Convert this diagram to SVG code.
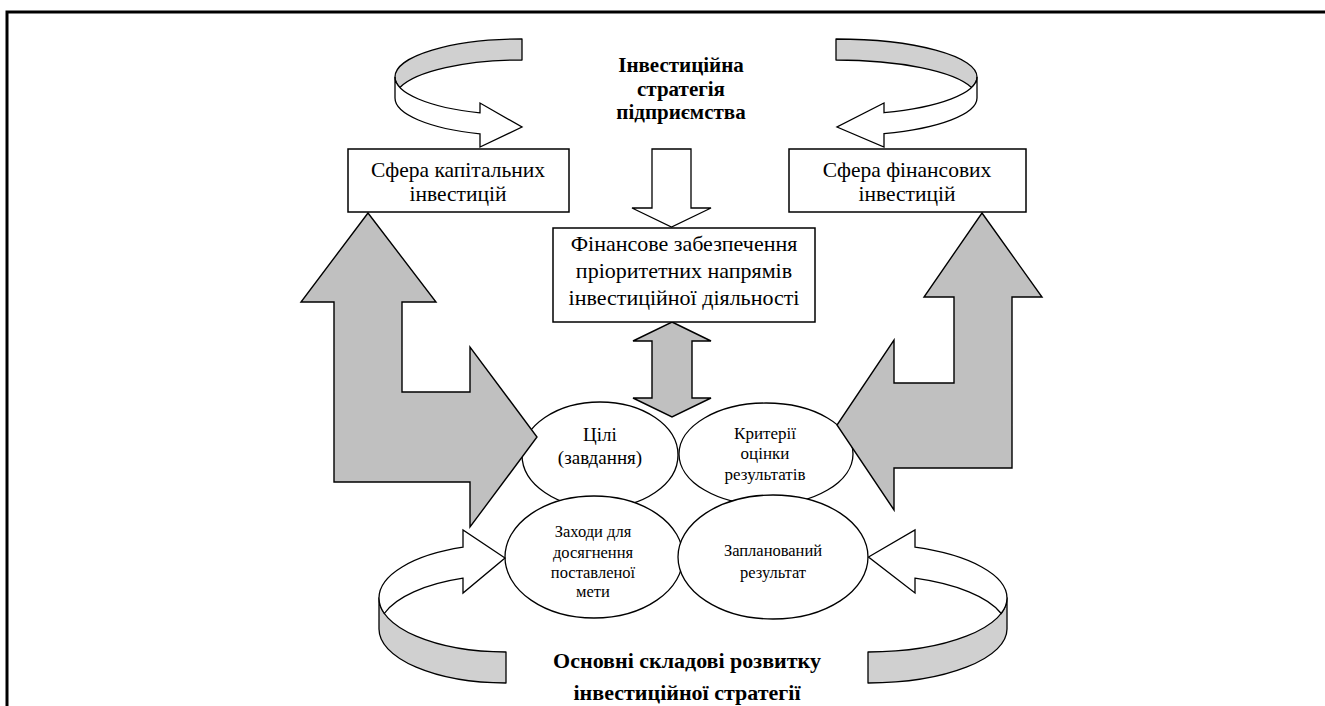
<svg xmlns="http://www.w3.org/2000/svg" width="1325" height="706" viewBox="0 0 1325 706">
<style>
  .box{fill:#fff;stroke:#000;stroke-width:1.5}
  .ell{fill:#fff;stroke:#000;stroke-width:1.3}
  .big{fill:#c0c0c0;stroke:#000;stroke-width:1.4;stroke-linejoin:miter}
  .rg{fill:#d0d0d0;stroke:#000;stroke-width:1.3;stroke-linejoin:round}
  .rw{fill:#fff;stroke:#000;stroke-width:1.3;stroke-linejoin:miter}
  .hol{fill:#fff;stroke:#000;stroke-width:1.3}
  text{font-family:"Liberation Serif","Times New Roman","DejaVu Serif",serif;fill:#000;text-anchor:middle}
  .t22{font-size:22px}
  .t21{font-size:21.5px}
  .t19{font-size:19px}
  .t17{font-size:17px}
  .t16{font-size:16.5px}
  .bt{font-size:21px;font-weight:bold}
  .bb{font-size:22px;font-weight:bold}
</style>
<rect x="0" y="0" width="1325" height="706" fill="#fff"/>
<path d="M7 706 V12 H1325" fill="none" stroke="#000" stroke-width="3"/>

<g id="title">
  <text class="bt" x="681" y="72">Інвестиційна</text>
  <text class="bt" x="681" y="96">стратегія</text>
  <text class="bt" x="681" y="119">підприємства</text>
</g>

<g id="ellipses-top">
  <g id="node-goals">
    <ellipse class="ell" cx="600" cy="455" rx="78" ry="53"/>
    <text class="t19" x="600" y="441">Цілі</text>
    <text class="t19" x="600" y="464">(завдання)</text>
  </g>
  <g id="node-criteria">
    <ellipse class="ell" cx="766" cy="454" rx="87" ry="51"/>
    <text class="t17" x="765" y="439">Критерії</text>
    <text class="t17" x="765" y="459">оцінки</text>
    <text class="t17" x="765" y="480">результатів</text>
  </g>
</g>
<g id="ellipses-bottom">
  <g id="node-measures">
    <ellipse class="ell" cx="594" cy="557" rx="89" ry="61"/>
    <text class="t16" x="593" y="537">Заходи для</text>
    <text class="t16" x="593" y="558">досягнення</text>
    <text class="t16" x="593" y="578">поставленої</text>
    <text class="t16" x="593" y="597">мети</text>
  </g>
  <g id="node-planned">
    <ellipse class="ell" cx="773" cy="557" rx="95" ry="62"/>
    <text class="t16" x="773" y="556">Запланований</text>
    <text class="t16" x="773" y="578">результат</text>
  </g>
</g>

<g id="connectors">
  <!-- big L arrows -->
  <path class="big" d="M368 213 L436 302 L402 302 L402 392 L470 392 L470 347 L537 437 L470 527 L470 482 L334 482 L334 302 L301 302 Z"/>
  <path class="big" d="M982 213 L1042 297 L1012 297 L1012 468 L894 468 L894 510 L837 425 L894 340 L894 383 L954 383 L954 297 L924 297 Z"/>
  <!-- double vertical arrow -->
  <path class="big" d="M672 322 L711 341 L692 341 L692 398 L711 398 L672 417 L633 398 L652 398 L652 341 L633 341 Z"/>
  <!-- hollow down arrow -->
  <path class="hol" d="M652 149 L691 149 L691 208 L711 208 L671.5 227 L632 208 L652 208 Z"/>
  <!-- top-left circular arrow -->
  <path class="rg" d="M522 39 A127 38 0 0 0 395 77 A127 38 0 0 0 399.9 87.5 A127 38 0 0 1 522 60 Z"/>
  <path class="rw" d="M395 77 A127 38 0 0 0 480 112.9 L480 103 L522 127 L480 147 L480 133.9 A127 38 0 0 1 395 98 Z"/>
  <!-- top-right circular arrow -->
  <path class="rg" d="M836 39 A141 38 0 0 1 977 77 A141 38 0 0 1 971.5 87.5 A141 38 0 0 0 836 60 Z"/>
  <path class="rw" d="M977 77 A141 38 0 0 1 884 112.7 L884 103 L837 127 L884 147 L884 133.7 A141 38 0 0 0 977 98 Z"/>
  <!-- bottom-left circular arrow -->
  <path class="rg" d="M379 598 A127 54 0 0 0 506 652 L506 683 A127 54 0 0 1 379 629 Z"/>
  <path class="rw" d="M379 598 A127 54 0 0 1 463 547.2 L463 530 L505 558 L463 593 L463 578.2 A127 54 0 0 0 384.3 613.5 A127 54 0 0 1 379 598 Z"/>
  <!-- bottom-right circular arrow -->
  <path class="rg" d="M1007 598 A139 54 0 0 1 868 652 L868 683 A139 54 0 0 0 1007 629 Z"/>
  <path class="rw" d="M1007 598 A139 54 0 0 0 915 547.2 L915 530 L868.5 557 L915 593 L915 578.2 A139 54 0 0 1 1001.2 613.5 A139 54 0 0 0 1007 598 Z"/>
</g>

<g id="node-capital">
  <rect class="box" x="348" y="149" width="221" height="63"/>
  <text class="t21" x="458" y="177">Сфера капітальних</text>
  <text class="t21" x="458" y="201">інвестицій</text>
</g>
<g id="node-financial">
  <rect class="box" x="789" y="149" width="237" height="63"/>
  <text class="t21" x="907" y="177">Сфера фінансових</text>
  <text class="t21" x="907" y="201">інвестицій</text>
</g>
<g id="node-funding">
  <rect class="box" x="553" y="228" width="262" height="94"/>
  <text class="t22" x="684" y="251">Фінансове забезпечення</text>
  <text class="t22" x="684" y="278">пріоритетних напрямів</text>
  <text class="t22" x="684" y="305">інвестиційної діяльності</text>
</g>

<g id="footer">
  <text class="bb" x="687" y="668">Основні складові розвитку</text>
  <text class="bb" x="687" y="700">інвестиційної стратегії</text>
</g>
</svg>
